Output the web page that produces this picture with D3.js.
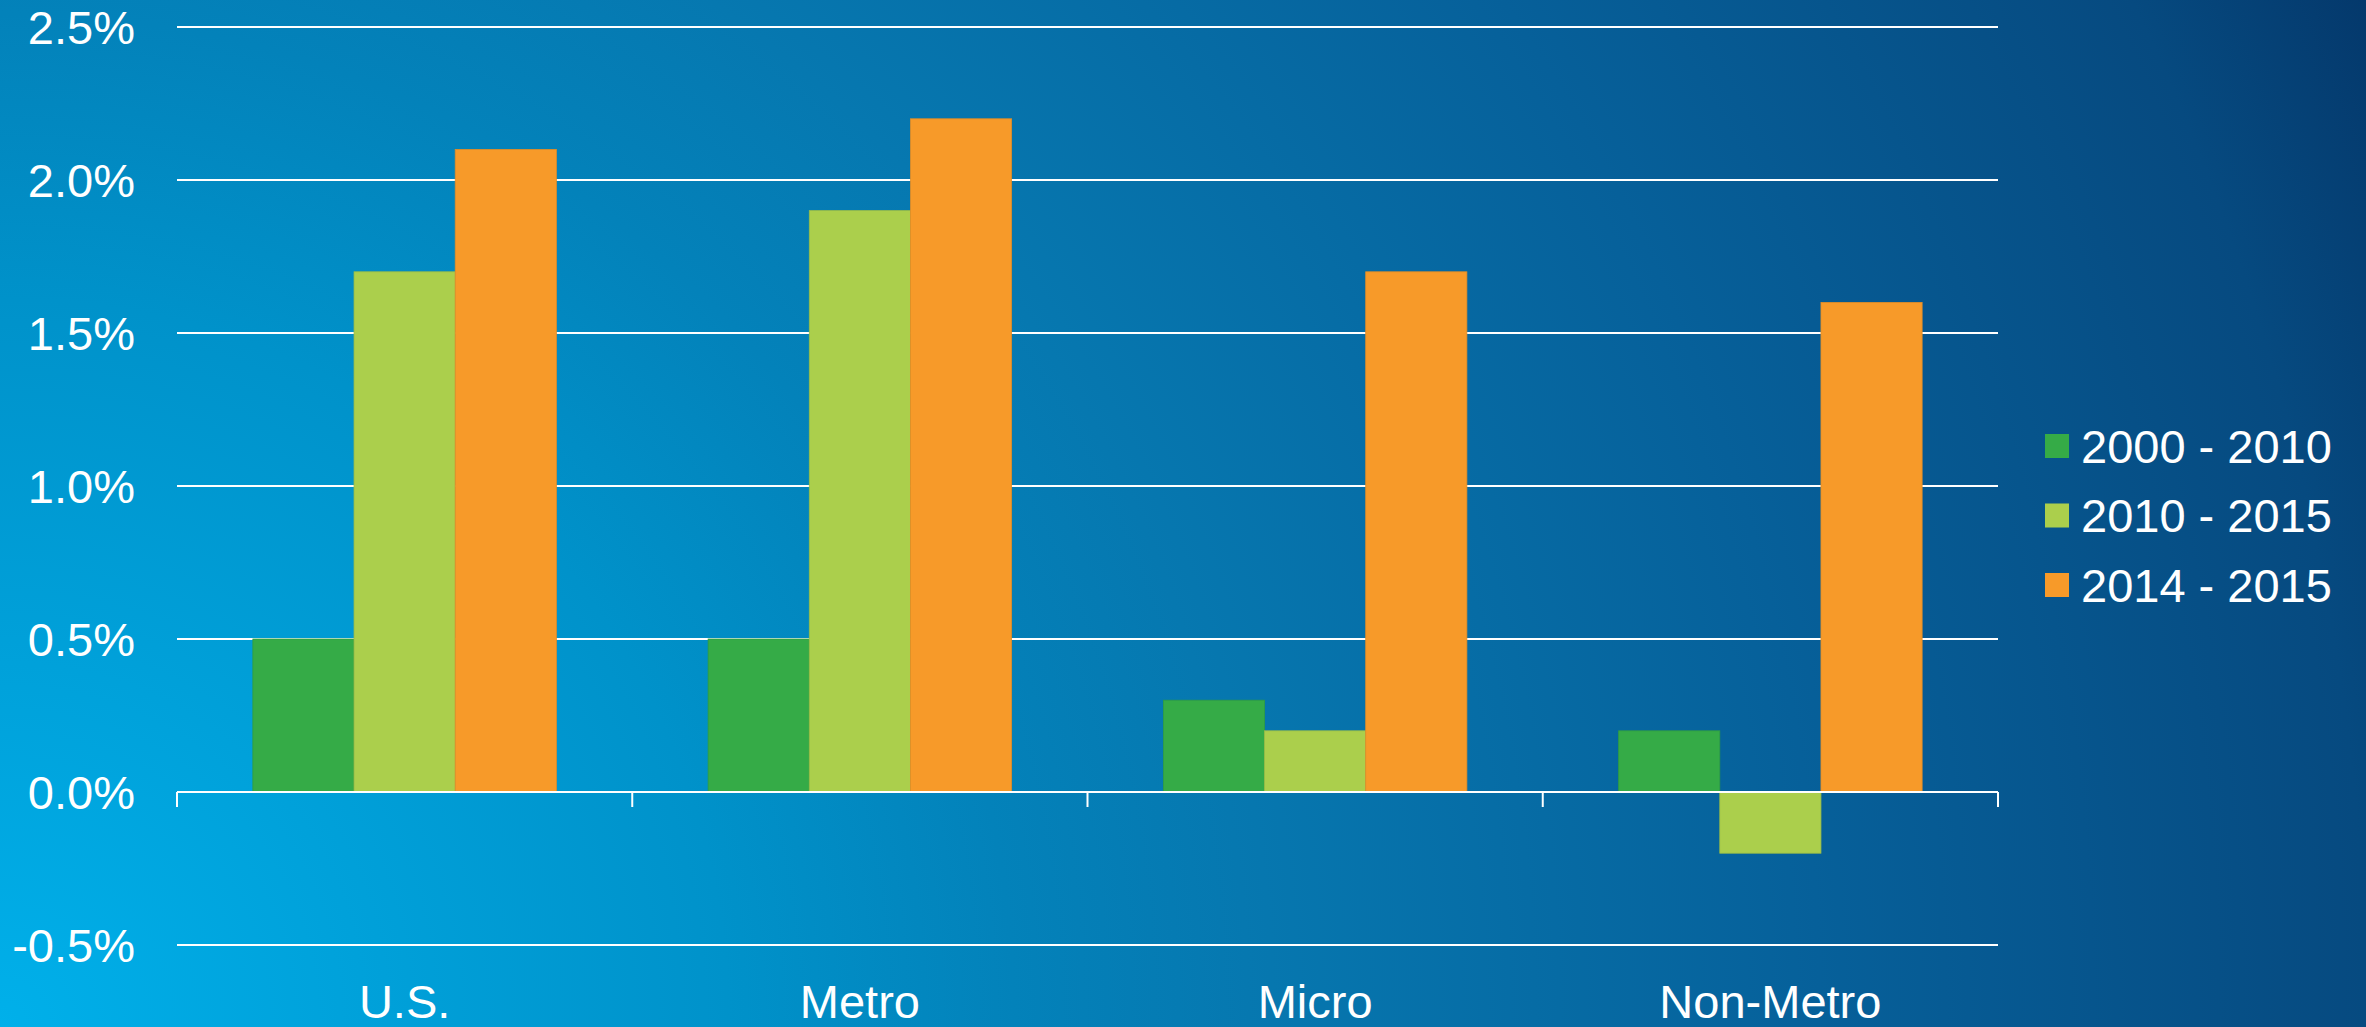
<!DOCTYPE html>
<html>
<head>
<meta charset="utf-8">
<script src="https://cdn.jsdelivr.net/npm/d3@7"></script>
<style>
  html, body { margin: 0; padding: 0; overflow: hidden; }
  svg { display: block; }
  text { font-family: "Liberation Sans", Arial, sans-serif; fill: #ffffff; }
</style>
</head>
<body>
<svg id="chart"></svg>
<script>
// Population growth by area type
const categories = ["U.S.", "Metro", "Micro", "Non-Metro"];
const seriesNames = ["2000 - 2010", "2010 - 2015", "2014 - 2015"];
const seriesColors = ["#35ab47", "#abcf4c", "#f79a29"];
const values2000_2010 = [0.5, 0.5, 0.3, 0.2];
const values2010_2015 = [1.7, 1.9, 0.2, -0.2];
const values2014_2015 = [2.1, 2.2, 1.7, 1.6];
const yTicks = [-0.5, 0.0, 0.5, 1.0, 1.5, 2.0, 2.5];

const series = [values2000_2010, values2010_2015, values2014_2015];

const W = 2366, H = 1027;
const plot = { left: 177, right: 1998, top: 27, bottom: 945 };

const svg = d3.select("#chart").attr("width", W).attr("height", H);

// Background wash: bright cyan lower-left fading to deep navy upper-right
const defs = svg.append("defs");
const grad = defs.append("radialGradient")
  .attr("id", "bg")
  .attr("gradientUnits", "userSpaceOnUse")
  .attr("cx", 0).attr("cy", H).attr("r", 2600);
[[0, "#00b0ea"], [0.28, "#0092ca"], [0.39, "#0382ba"], [0.48, "#0678b0"],
 [0.7, "#06609a"], [0.91, "#064a80"], [1, "#04376a"]]
  .forEach(([o, c]) => grad.append("stop").attr("offset", o).attr("stop-color", c));
svg.append("rect").attr("width", W).attr("height", H).attr("fill", "url(#bg)");

const x0 = d3.scaleBand().domain(categories).range([plot.left, plot.right]).paddingInner(0).paddingOuter(0);
const x1 = d3.scaleBand().domain(d3.range(series.length))
  .range([0, x0.bandwidth()]).paddingInner(0).paddingOuter(0.75);
const y = d3.scaleLinear().domain([-0.5, 2.5]).range([plot.bottom, plot.top]);

// Horizontal gridlines
svg.append("g").selectAll("line")
  .data(yTicks.filter(t => t !== 0))
  .join("line")
  .attr("x1", plot.left).attr("x2", plot.right)
  .attr("y1", d => y(d)).attr("y2", d => y(d))
  .attr("stroke", "#ffffff").attr("stroke-width", 2);

// Y-axis labels (plain hyphen for negatives)
const pct = d => (d < 0 ? "-" : "") + Math.abs(d).toFixed(1) + "%";
svg.append("g").selectAll("text")
  .data(yTicks)
  .join("text")
  .attr("x", 135).attr("y", d => y(d))
  .attr("dy", "0.36em")
  .attr("text-anchor", "end")
  .attr("font-size", 47)
  .text(pct);

// Bars
const groups = svg.append("g").selectAll("g")
  .data(categories)
  .join("g")
  .attr("transform", d => `translate(${x0(d)},0)`);

groups.selectAll("rect")
  .data((d, i) => series.map((s, k) => ({ k, v: s[i] })))
  .join("rect")
  .attr("x", d => x1(d.k))
  .attr("width", x1.bandwidth())
  .attr("y", d => y(Math.max(0, d.v)))
  .attr("height", d => Math.abs(y(d.v) - y(0)))
  .attr("fill", d => seriesColors[d.k])
  .attr("stroke", d => d3.color(seriesColors[d.k]).darker(0.25))
  .attr("stroke-width", 0.8);

// Category axis along zero with tick marks at band edges
const xAxis = svg.append("g");
xAxis.append("line")
  .attr("x1", plot.left).attr("x2", plot.right)
  .attr("y1", y(0)).attr("y2", y(0))
  .attr("stroke", "#ffffff").attr("stroke-width", 2);
const edges = categories.map(c => x0(c)).concat([plot.right]);
xAxis.selectAll("line.tick")
  .data(edges)
  .join("line")
  .attr("class", "tick")
  .attr("x1", d => d).attr("x2", d => d)
  .attr("y1", y(0)).attr("y2", y(0) + 15)
  .attr("stroke", "#ffffff").attr("stroke-width", 2);

// Category labels
svg.append("g").selectAll("text")
  .data(categories)
  .join("text")
  .attr("x", d => x0(d) + x0.bandwidth() / 2)
  .attr("y", 1018)
  .attr("text-anchor", "middle")
  .attr("font-size", 47)
  .text(d => d);

// Legend
const legend = svg.append("g").attr("transform", "translate(2045,434)");
const items = legend.selectAll("g")
  .data(seriesNames)
  .join("g")
  .attr("transform", (d, i) => `translate(0,${i * 69.5})`);
items.append("rect")
  .attr("width", 24).attr("height", 24)
  .attr("fill", (d, i) => seriesColors[i]);
items.append("text")
  .attr("x", 36).attr("y", 12)
  .attr("dy", "0.36em")
  .attr("font-size", 47)
  .text(d => d);
</script>
</body>
</html>
